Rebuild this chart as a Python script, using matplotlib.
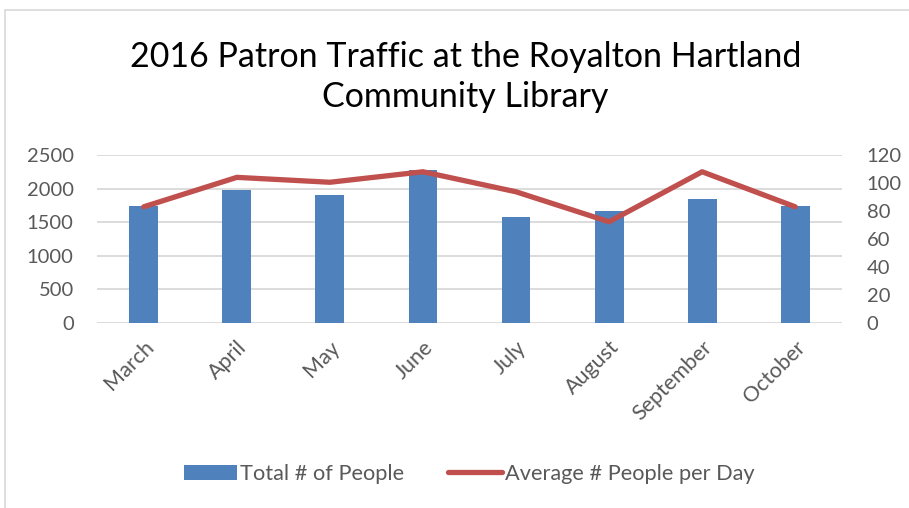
import matplotlib.pyplot as plt
from matplotlib.patches import Rectangle
import numpy as np

months = ['March', 'April', 'May', 'June', 'July', 'August', 'September', 'October']
total_people = [1740, 1978, 1899, 2272, 1571, 1661, 1840, 1740]
avg_per_day = [83, 104, 100.5, 108, 93.7, 72.3, 108, 83]

plt.rcParams['font.family'] = ['Lato', 'DejaVu Sans']

fig = plt.figure(figsize=(9.09, 5.08), dpi=100)
fig.patches.append(Rectangle((5 / 909, -0.1), 1.1, 1 - 10 / 508 + 0.1,
                             transform=fig.transFigure, fill=False,
                             edgecolor='#d9d9d9', linewidth=1.2))

ax = fig.add_axes([0.107, 0.364, 0.819, 0.331])
x = np.arange(len(months))
bars = ax.bar(x, total_people, width=0.31, color='#4f81bd', label='Total # of People', zorder=2)
ax.set_ylim(0, 2500)
ax.set_yticks(range(0, 2501, 500))
ax.set_xlim(-0.5, len(months) - 0.5)
ax.yaxis.grid(True, color='#d9d9d9', linewidth=1.3, zorder=0)
ax.set_axisbelow(True)
for s in ax.spines.values():
    s.set_visible(False)
ax.tick_params(axis='y', length=0, labelsize=14.5, colors='#595959', pad=17)
ax.tick_params(axis='x', length=0, labelsize=15.5, colors='#595959', pad=10)
ax.set_xticks(x)
ax.set_xticklabels(months, rotation=45, ha='right', rotation_mode='anchor')

ax2 = ax.twinx()
line, = ax2.plot(x, avg_per_day, color='#c0504d', linewidth=3.8,
                 solid_capstyle='round', label='Average # People per Day', zorder=3)
ax2.set_ylim(0, 120)
ax2.set_yticks(range(0, 121, 20))
for s in ax2.spines.values():
    s.set_visible(False)
ax2.tick_params(axis='y', length=0, labelsize=14.5, colors='#595959', pad=18)

fig.text(0.512, 0.848, '2016 Patron Traffic at the Royalton Hartland\nCommunity Library',
         ha='center', va='center', fontsize=24.5, linespacing=1.32, color='#000000')

fig.legend([bars, line], ['Total # of People', 'Average # People per Day'],
           loc='center', bbox_to_anchor=(0.516, 0.067), ncol=2, frameon=False,
           fontsize=15.7, labelcolor='#595959', handlelength=2.45,
           handletextpad=0.15, columnspacing=2.0)

plt.savefig('out.png', dpi=100)
